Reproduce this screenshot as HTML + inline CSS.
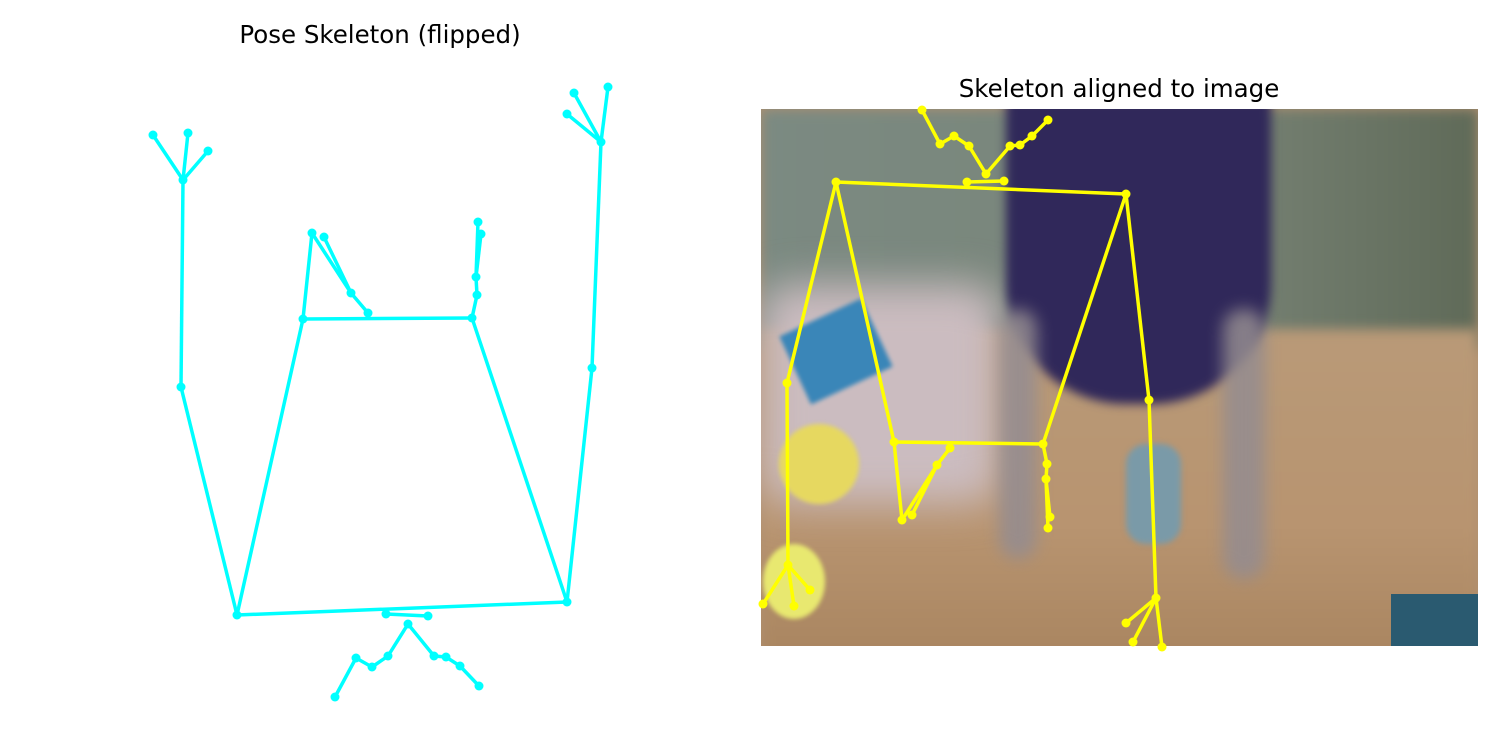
<!DOCTYPE html>
<html><head><meta charset="utf-8"><style>
body{margin:0;width:1500px;height:750px;background:#fff;position:relative;overflow:hidden;font-family:"Liberation Sans","DejaVu Sans",sans-serif}
.t{position:absolute;font-size:24.5px;color:#000;transform:translateX(-50%);white-space:nowrap;font-family:"DejaVu Sans","Liberation Sans",sans-serif}
#photo{position:absolute;left:761px;top:109px;width:717px;height:537px;overflow:hidden;background:#b09070}
#photo div{position:absolute}
svg{position:absolute;left:0;top:0}
</style></head><body>
<div class="t" style="left:380px;top:20px">Pose Skeleton (flipped)</div>
<div class="t" style="left:1119px;top:74px">Skeleton aligned to image</div>
<div id="photo">
 <div style="left:0;top:0;width:717px;height:240px;background:linear-gradient(90deg,#7b8a82,#7a8578 60%,#5f6a58);filter:blur(6px)"></div>
 <div style="left:0;top:220px;width:717px;height:330px;background:linear-gradient(180deg,#b99a78,#b89470 60%,#a98560);filter:blur(6px)"></div>
 <div style="left:0;top:175px;width:240px;height:220px;background:#cbbcc0;border-radius:30px;filter:blur(20px)"></div>
 <div style="left:245px;top:-10px;width:265px;height:305px;background:#30285a;border-radius:0 0 120px 120px;filter:blur(5px)"></div>
 <div style="left:238px;top:200px;width:38px;height:250px;background:#948c90;border-radius:20px;filter:blur(8px);opacity:.85"></div>
 <div style="left:462px;top:200px;width:42px;height:270px;background:#948c90;border-radius:20px;filter:blur(8px);opacity:.85"></div>
 <div style="left:30px;top:205px;width:90px;height:75px;background:#3a86b8;transform:rotate(-25deg);filter:blur(2px)"></div>
 <div style="left:18px;top:315px;width:80px;height:80px;background:#e6d860;border-radius:50%;filter:blur(2px)"></div>
 <div style="left:2px;top:435px;width:62px;height:75px;background:#e8e870;border-radius:50%;filter:blur(2px)"></div>
 <div style="left:365px;top:335px;width:55px;height:100px;background:#7a9aa8;border-radius:20px;filter:blur(3px)"></div>
 <div style="left:630px;top:485px;width:90px;height:60px;background:#2a5a70"></div>
</div>
<svg width="1500" height="750"></svg>
<script>
const leftPts=[[386,614],[428,616],[408,624],[388,656],[372,667],[356,658],[335,697],[434,656],[446,657],[460,666],[479,686],
[237,615],[567,602],[181,387],[183,180],[153,135],[188,133],[208,151],[592,368],[601,142],[574,93],[567,114],[608,87],
[303,319],[472,318],[312,233],[324,237],[351,293],[368,313],[478,222],[481,234],[476,277],[477,295]];
const rightPts=[[967,182],[1004,181],[986,174],[969,146],[954,136],[940,144],[922,110],[1010,146],[1020,145],[1032,136],[1048,120],
[836,182],[1126,194],[787,383],[788,565],[763,604],[794,606],[810,590],[1149,400],[1156,598],[1126,623],[1133,642],[1162,647],
[894,442],[1043,444],[902,520],[912,515],[937,465],[950,448],[1048,528],[1050,517],[1046,479],[1047,464]];
const edges=[[0,1],[2,3],[3,4],[4,5],[5,6],[2,7],[7,8],[8,9],[9,10],[11,12],[11,13],[13,14],[14,15],[14,16],[14,17],
[12,18],[18,19],[19,20],[19,21],[19,22],[11,23],[12,24],[23,24],[23,25],[25,27],[26,27],[27,28],[24,32],[32,31],[31,29],[31,30]];
const rightEdges=[[0,1],[2,3],[3,4],[4,5],[5,6],[2,7],[7,8],[8,9],[9,10],[11,12],[11,13],[13,14],[14,15],[14,16],[14,17],
[12,18],[18,19],[19,20],[19,21],[19,22],[11,23],[12,24],[23,24],[23,25],[25,27],[26,27],[27,28],[24,32],[32,31],[31,29],[31,30]];
const svg=document.querySelector('svg');const NS='http://www.w3.org/2000/svg';
function draw(pts,eds,color,name){
 const g=document.createElementNS(NS,'g');
 
 
 svg.appendChild(g);
 eds.forEach(e=>{const l=document.createElementNS(NS,'line');
  
  
  l.setAttribute('x1',pts[e[0]][0]);l.setAttribute('y1',pts[e[0]][1]);l.setAttribute('x2',pts[e[1]][0]);l.setAttribute('y2',pts[e[1]][1]);
  l.setAttribute('stroke',color);l.setAttribute('stroke-width',3.5);g.appendChild(l);});
 pts.forEach(p=>{const c=document.createElementNS(NS,'circle');
  
  
  c.setAttribute('cx',p[0]);c.setAttribute('cy',p[1]);c.setAttribute('r',4.5);c.setAttribute('fill',color);g.appendChild(c);});
}
draw(leftPts,edges,'#00ffff','left-skeleton');
draw(rightPts,rightEdges,'#ffff00','right-skeleton');
</script>
</body></html>
